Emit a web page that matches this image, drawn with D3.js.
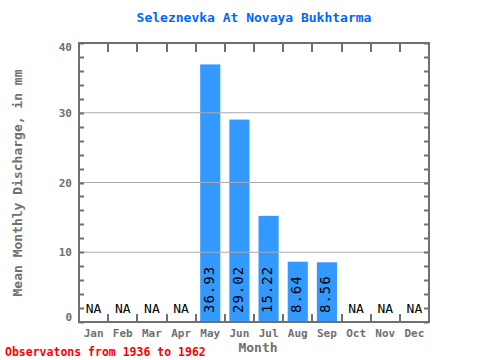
<!DOCTYPE html>
<html><head><meta charset="utf-8">
<script src="https://cdn.jsdelivr.net/npm/d3@7"></script>
<style>body{margin:0;background:#fff}svg{display:block}text{font-family:"DejaVu Sans Mono",monospace}</style>
</head><body><svg id="c" width="480" height="360"></svg>
<script>
const months = ["Jan","Feb","Mar","Apr","May","Jun","Jul","Aug","Sep","Oct","Nov","Dec"];
const values = [null,null,null,null,36.93,29.02,15.22,8.64,8.56,null,null,null];
const yTicks = [0,10,20,30,40];
const title = "Seleznevka At Novaya Bukhtarma";
const yLabel = "Mean Monthly Discharge, in mm";
const xLabel = "Month";
const note = "Observatons from 1936 to 1962";

const svg = d3.select("#c");
const L=79,R=429,T=43,B=322;
const x = d3.scaleBand().domain(months).range([L,R]).paddingInner(0.31).paddingOuter(0.155);
const xb = d3.scaleBand().domain(months).range([L,R]);
const y = d3.scaleLinear().domain([0,40]).range([B,T]);
const gray="#707070";

// bars
svg.selectAll("rect.bar").data(months.map((m,i)=>({m,v:values[i]})).filter(d=>d.v!=null))
 .enter().append("rect").attr("fill","#3399ff")
 .attr("x",d=>x(d.m)).attr("width",x.bandwidth())
 .attr("y",d=>y(d.v)).attr("height",d=>y(0)-y(d.v));

// gridlines
svg.selectAll("line.grid").data(yTicks.filter(t=>t>0&&t<40)).enter().append("line")
 .attr("x1",L).attr("x2",R).attr("y1",d=>y(d)).attr("y2",d=>y(d))
 .attr("stroke","#aaaaaa").attr("stroke-width",1);

// minor y ticks both sides
const minor = d3.range(0,41,2);
svg.selectAll("line.yl").data(minor).enter().append("line")
 .attr("x1",L).attr("x2",L+5).attr("y1",d=>Math.round(y(d))+0.5).attr("y2",d=>Math.round(y(d))+0.5).attr("stroke",gray).attr("stroke-width",2);
svg.selectAll("line.yr").data(minor).enter().append("line")
 .attr("x1",R-5).attr("x2",R).attr("y1",d=>Math.round(y(d))+0.5).attr("y2",d=>Math.round(y(d))+0.5).attr("stroke",gray).attr("stroke-width",2);

// x ticks at band boundaries
const bounds = months.slice(1).map(m=>xb(m));
svg.selectAll("line.xt").data(bounds).enter().append("line")
 .attr("x1",d=>Math.round(d)).attr("x2",d=>Math.round(d)).attr("y1",T).attr("y2",T+9).attr("stroke",gray).attr("stroke-width",2);
svg.selectAll("line.xb").data(bounds).enter().append("line")
 .attr("x1",d=>Math.round(d)).attr("x2",d=>Math.round(d)).attr("y1",B-8).attr("y2",B).attr("stroke",gray).attr("stroke-width",2);

// frame
svg.append("rect").attr("x",L).attr("y",T).attr("width",R-L).attr("height",B-T)
 .attr("fill","none").attr("stroke",gray).attr("stroke-width",2);

// y tick labels (end labels pulled inward)
svg.selectAll("text.yt").data(yTicks).enter().append("text")
 .attr("x",72).attr("y",d=>Math.min(Math.max(y(d),T+3.5),B-5)+4).attr("text-anchor","end")
 .attr("font-size",11).attr("font-weight","bold").attr("fill",gray).text(d=>d);

// month labels
svg.selectAll("text.mt").data(months).enter().append("text")
 .attr("x",d=>xb(d)+xb.bandwidth()/2).attr("y",337).attr("text-anchor","middle")
 .attr("font-size",11).attr("font-weight","bold").attr("fill",gray).text(d=>d);

// value labels
months.forEach((m,i)=>{
  const cx = xb(m)+xb.bandwidth()/2;
  if(values[i]==null){
    svg.append("text").attr("x",cx).attr("y",313).attr("text-anchor","middle")
     .attr("font-size",13).attr("fill","#000").text("NA");
  } else {
    svg.append("text").attr("transform",`translate(${cx+3.5},${313}) rotate(-90)`)
     .attr("font-size",14).attr("letter-spacing",1).attr("fill","#000").text(values[i].toFixed(2));
  }
});

// title & labels
svg.append("text").attr("x",254).attr("y",22).attr("text-anchor","middle")
 .attr("font-size",13).attr("font-weight","bold").attr("fill","#0066ff").text(title);
svg.append("text").attr("transform","translate(22,183) rotate(-90)").attr("text-anchor","middle")
 .attr("font-size",13).attr("font-weight","bold").attr("fill",gray).text(yLabel);
svg.append("text").attr("x",258).attr("y",352).attr("text-anchor","middle")
 .attr("font-size",13).attr("font-weight","bold").attr("fill",gray).text(xLabel);
svg.append("text").attr("x",5).attr("y",356)
 .attr("font-size",11.5).attr("font-weight","bold").attr("fill","#ff0000").text(note);
</script></body></html>
